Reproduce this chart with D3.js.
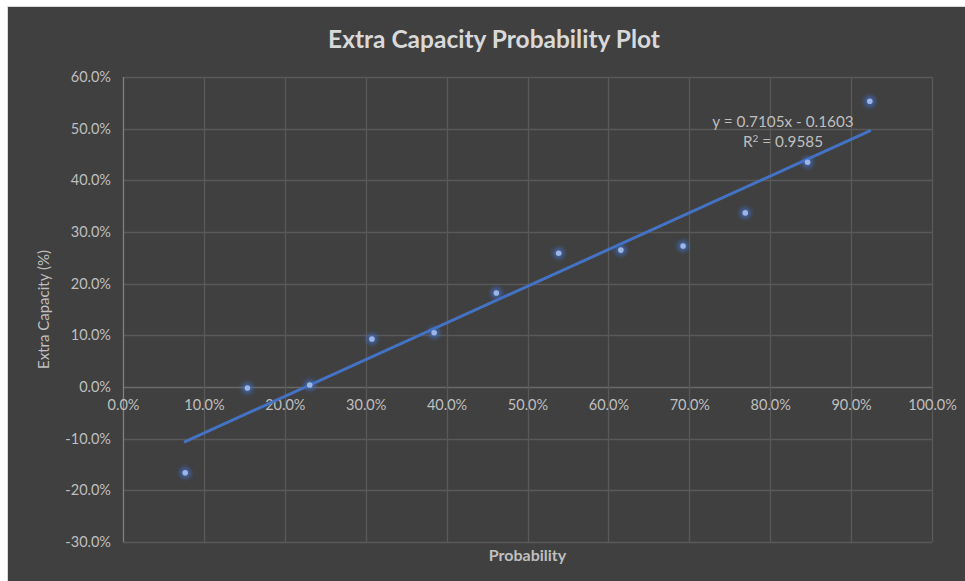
<!DOCTYPE html>
<html>
<head>
<meta charset="utf-8">
<script src="https://cdn.jsdelivr.net/npm/d3@7"></script>
<style>
  html, body { margin: 0; padding: 0; background: #ffffff; }
  svg { display: block; }
</style>
</head>
<body>
<svg id="chart" width="965" height="581"></svg>
<script>
// ---- data ----
const probability = [0.0769, 0.1538, 0.2308, 0.3077, 0.3846, 0.4615, 0.5385, 0.6154, 0.6923, 0.7692, 0.8462, 0.9231];
const extraCapacity = [-0.166, -0.002, 0.004, 0.093, 0.105, 0.182, 0.259, 0.265, 0.273, 0.337, 0.435, 0.553];
const xTicks = [0, 0.1, 0.2, 0.3, 0.4, 0.5, 0.6, 0.7, 0.8, 0.9, 1.0];
const yTicks = [-0.3, -0.2, -0.1, 0, 0.1, 0.2, 0.3, 0.4, 0.5, 0.6];
const trendSlope = 0.7105;
const trendIntercept = -0.1603;
const trendR2 = 0.9585;
const titleText = "Extra Capacity Probability Plot";
const xTitle = "Probability";
const yTitle = "Extra Capacity (%)";

// ---- layout ----
const svg = d3.select("#chart");
const font = "Lato, 'Open Sans', sans-serif";
const textColor = "#bfbfbf";
const plot = { left: 123, right: 932, top: 77, bottom: 542 };

svg.append("rect")
  .attr("x", 7.5).attr("y", 6.5)
  .attr("width", 980).attr("height", 600)
  .attr("fill", "#404040")
  .attr("stroke", "#d9d9d9").attr("stroke-width", 1);

const x = d3.scaleLinear().domain([0, 1]).range([plot.left, plot.right]);
const y = d3.scaleLinear().domain([-0.3, 0.6]).range([plot.bottom, plot.top]);
const pctBase = d3.format(".1%");
const pct = d => pctBase(d).replace("\u2212", "-");

// glow filter
const defs = svg.append("defs");
const f = defs.append("filter").attr("id", "glow")
  .attr("x", "-100%").attr("y", "-100%").attr("width", "300%").attr("height", "300%");
f.append("feGaussianBlur").attr("stdDeviation", 2.2);

// gridlines
const g = svg.append("g");
g.selectAll(".hg").data(yTicks).join("line")
  .attr("x1", plot.left).attr("x2", plot.right)
  .attr("y1", d => Math.round(y(d)) + 0.5).attr("y2", d => Math.round(y(d)) + 0.5)
  .attr("stroke", d => d === 0 ? "#6a6a6a" : "#595959").attr("stroke-width", 1.3);
g.selectAll(".vg").data(xTicks).join("line")
  .attr("y1", plot.top).attr("y2", plot.bottom)
  .attr("x1", d => Math.round(x(d)) + 0.5).attr("x2", d => Math.round(x(d)) + 0.5)
  .attr("stroke", d => d === 0 ? "#808080" : "#595959").attr("stroke-width", 1.3);

// tick labels via axes (no lines)
const xAxis = svg.append("g")
  .attr("transform", `translate(0,${y(0)})`)
  .call(d3.axisBottom(x).tickValues(xTicks).tickFormat(pct).tickSize(0).tickPadding(13));
const yAxis = svg.append("g")
  .attr("transform", `translate(${plot.left},0)`)
  .call(d3.axisLeft(y).tickValues(yTicks).tickFormat(pct).tickSize(0).tickPadding(12));
[xAxis, yAxis].forEach(a => {
  a.select(".domain").remove();
  a.selectAll("text").attr("fill", textColor).attr("font-family", font).attr("font-size", 14.5);
});

// trendline
const tx0 = d3.min(probability), tx1 = d3.max(probability);
svg.append("line")
  .attr("x1", x(tx0)).attr("y1", y(trendSlope * tx0 + trendIntercept))
  .attr("x2", x(tx1)).attr("y2", y(trendSlope * tx1 + trendIntercept))
  .attr("stroke", "#4472c4").attr("stroke-width", 3).attr("stroke-linecap", "round");

// points
const pts = probability.map((p, i) => [p, extraCapacity[i]]);
svg.append("g").selectAll("circle").data(pts).join("circle")
  .attr("cx", d => x(d[0])).attr("cy", d => y(d[1])).attr("r", 5.5)
  .attr("fill", "#3f6fc8").attr("opacity", 0.75).attr("filter", "url(#glow)");
svg.append("g").selectAll("circle").data(pts).join("circle")
  .attr("cx", d => x(d[0])).attr("cy", d => y(d[1])).attr("r", 2.8)
  .attr("fill", "#9db5e4");

// equation label
const eq = svg.append("text")
  .attr("x", 783).attr("y", 127)
  .attr("text-anchor", "middle").attr("fill", textColor)
  .attr("font-family", font).attr("font-size", 15.3);
eq.append("tspan").attr("x", 783).text(`y = ${trendSlope}x - ${Math.abs(trendIntercept)}`);
const r2 = eq.append("tspan").attr("x", 783).attr("dy", 20);
r2.append("tspan").text("R");
r2.append("tspan").attr("font-size", 10).attr("dy", -5).text("2");
r2.append("tspan").attr("dy", 5).text(` = ${trendR2}`);

// titles
svg.append("text")
  .attr("x", 494).attr("y", 48)
  .attr("text-anchor", "middle").attr("fill", "#d9d9d9")
  .attr("font-family", font).attr("font-weight", "bold").attr("font-size", 24.5)
  .text(titleText);
svg.append("text")
  .attr("x", (plot.left + plot.right) / 2).attr("y", 561)
  .attr("text-anchor", "middle").attr("fill", textColor)
  .attr("font-family", font).attr("font-weight", "bold").attr("font-size", 16)
  .text(xTitle);
svg.append("text")
  .attr("transform", `translate(49,${(plot.top + plot.bottom) / 2}) rotate(-90)`)
  .attr("text-anchor", "middle").attr("fill", textColor)
  .attr("font-family", font).attr("font-size", 15)
  .text(yTitle);
</script>
</body>
</html>
